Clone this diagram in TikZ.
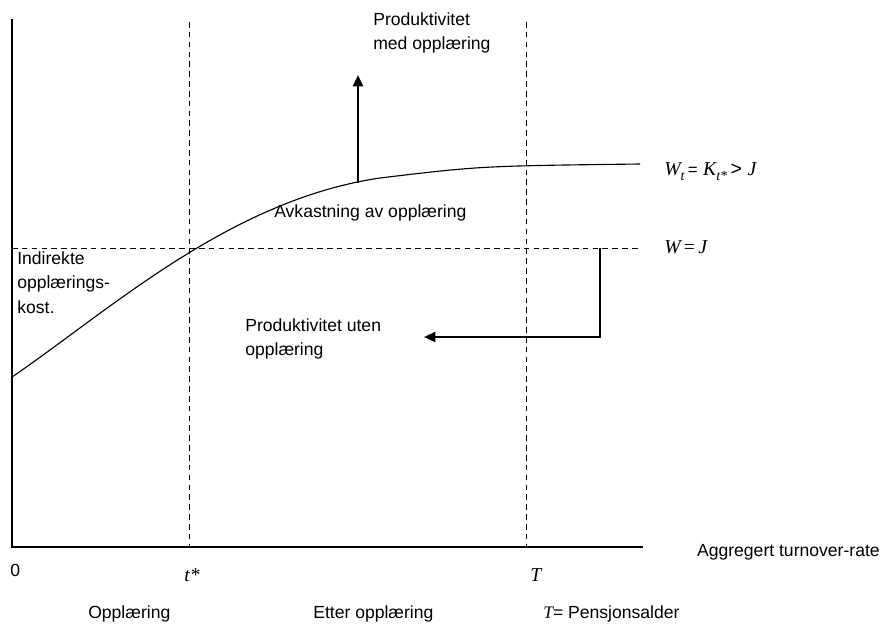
\documentclass[tikz,border=0pt]{standalone}
\usepackage{fontspec}
\setmainfont{Liberation Sans}
\newfontfamily\timesfont{Liberation Serif}
\usetikzlibrary{arrows.meta}
\newcommand{\vi}[1]{{\timesfont\itshape #1}}
\newcommand{\sub}[1]{\raisebox{-0.5ex}{\fontsize{10}{10}\selectfont\vi{#1}}}

\begin{document}
\begin{tikzpicture}[x=0.25mm,y=-0.25mm,
  lbl/.style={anchor=north west,inner sep=0pt,align=left,font=\fontsize{12.5}{17.5}\selectfont},
  mth/.style={anchor=north west,inner sep=0pt,font=\fontsize{14}{16}\selectfont},
  guide/.style={dash pattern=on 4pt off 3pt,line width=0.7pt},
  pil/.style={line width=1.6pt,-{Triangle[length=8pt,width=7pt]}}]
\useasboundingbox (0,0) rectangle (883,630);

% axes
\coordinate (o) at (12,547);
\coordinate (ytop) at (12,19);
\coordinate (xend) at (643,547);
\draw[line width=0.8pt] (ytop) -- (o) -- (xend);

% guides
\coordinate (ts) at (189,547);
\coordinate (tstop) at (189,22);
\coordinate (T) at (526,547);
\coordinate (Ttop) at (526,22);
\coordinate (j0) at (12,248);
\coordinate (j1) at (640,248);
\draw[guide] (tstop) -- (ts);
\draw[guide] (Ttop) -- (T);
\draw[guide] (j0) -- (j1);

% wage curve
\coordinate (c0) at (12,377);
\coordinate (c1) at (380,178);
\coordinate (c2) at (640,164);
\draw[line width=0.8pt] (c0) .. controls (110,310) and (230,200) .. (c1)
  .. controls (480,166) .. (c2);

% arrows
\coordinate (up0) at (358,183);
\coordinate (up1) at (358,75);
\draw[pil] (up0) -- (up1);
\coordinate (dn0) at (600,248);
\coordinate (dn1) at (600,337);
\coordinate (dn2) at (424,337);
\draw[pil] (dn0) -- (dn1) -- (dn2);

% labels
\node[lbl] (pmed) at (373,12) {Produktivitet\\med opplæring};
\node[lbl] (puten) at (245,318) {Produktivitet uten\\opplæring};
\node[lbl] (avk) at (274,204) {Avkastning av opplæring};
\node[lbl] (ind) at (17,251) {Indirekte\\opplærings-\\kost.};
\node[mth] (wt) at (664,162) {\vi{W}\sub{t}\,{\fontsize{12}{12}\selectfont=} \vi{K}\sub{t*}\,> \vi{J}};
\node[mth] (wj) at (664,240) {\vi{W}\,{\timesfont=}\,\vi{J}};
\node[lbl,anchor=north east] (agg) at (880,544) {Aggregert turnover-rate};
\node[lbl] (zero) at (10,564) {0};
\node[mth] (tslbl) at (184,568) {\vi{t*}};
\node[mth] (Tlbl) at (530,568) {\vi{T}};
\node[lbl] (opp) at (88,605) {Opplæring};
\node[lbl] (etter) at (313,605) {Etter opplæring};
\node[lbl] (pens) at (543,605) {\vi{T}= Pensjonsalder};
\end{tikzpicture}
\end{document}
